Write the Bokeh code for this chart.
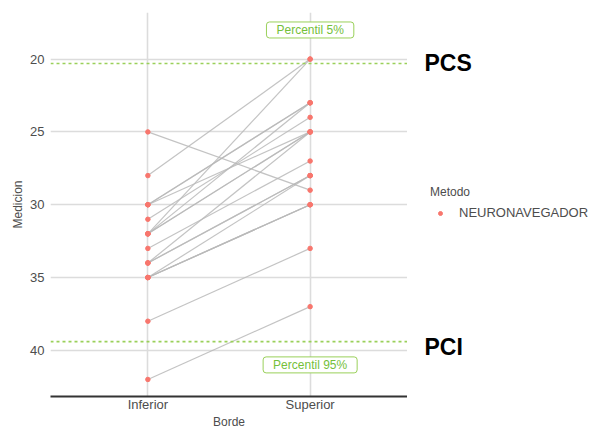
from bokeh.plotting import figure
from bokeh.models import Range1d, FixedTicker, Span, Label, Legend, LegendItem
from bokeh.layouts import row
from bokeh.embed import file_html
from bokeh.resources import INLINE

# ---- data ----
categories = ["Inferior", "Superior"]
inferior = [42, 38, 25, 28, 32, 30, 30, 30, 31, 32, 32, 32, 33, 34, 34, 34, 35, 35, 35, 35]
superior = [37, 33, 29, 20, 20, 23, 23, 25, 24, 23, 25, 25, 27, 25, 28, 28, 28, 30, 30, 30]
y_ticks = [20, 25, 30, 35, 40]
pcs_value = 20.3
pci_value = 39.4
method = "NEURONAVEGADOR"

FONT = "Liberation Sans"
GRID = "#dcdcdc"
GREEN = "#9ad05a"
GREEN_TXT = "#74c03a"
RED = "#F8766D"
H = 431
TOP, BOTTOM = 12, 34

yr = Range1d(43.17, 16.8)
p = figure(width=407, height=H, output_backend="svg", toolbar_location=None,
           x_range=Range1d(0.4, 2.6), y_range=yr,
           min_border_left=50, min_border_right=0, min_border_top=TOP, min_border_bottom=BOTTOM)
p.outline_line_color = None

cat_pos = {c: i + 1 for i, c in enumerate(categories)}

# axes
p.xaxis.ticker = FixedTicker(ticks=list(cat_pos.values()))
p.xaxis.major_label_overrides = {v: k for k, v in cat_pos.items()}
p.xaxis.axis_line_color = "#333333"
p.xaxis.axis_line_width = 2
p.xaxis.axis_label = "Borde"
p.xaxis.major_label_standoff = 0
p.xaxis.axis_label_standoff = 0

p.yaxis.ticker = FixedTicker(ticks=y_ticks)
p.yaxis.axis_line_color = None
p.yaxis.axis_label = "Medicion"
p.yaxis.major_label_standoff = 6
p.yaxis.axis_label_standoff = 2

for ax in (p.xaxis[0], p.yaxis[0]):
    ax.major_tick_line_color = None
    ax.minor_tick_line_color = None
    ax.major_tick_out = 0
    ax.minor_tick_out = 0
    ax.major_tick_in = 0
    ax.major_label_text_font = FONT
    ax.major_label_text_font_size = "13px"
    ax.major_label_text_color = "#4d4d4d"
    ax.axis_label_text_font = FONT
    ax.axis_label_text_font_size = "12px"
    ax.axis_label_text_font_style = "normal"
    ax.axis_label_text_color = "#4d4d4d"

p.xgrid.ticker = FixedTicker(ticks=list(cat_pos.values()))
p.ygrid.ticker = FixedTicker(ticks=y_ticks)
p.xgrid.grid_line_color = GRID
p.ygrid.grid_line_color = GRID
p.xgrid.grid_line_width = 1.6
p.ygrid.grid_line_width = 1.6

# percentile lines
for v in (pcs_value, pci_value):
    p.add_layout(Span(location=v, dimension="width", line_color=GREEN,
                      line_width=1.6, line_dash="3 3"))

# paired lines
n = len(inferior)
x0 = [cat_pos["Inferior"]] * n
x1 = [cat_pos["Superior"]] * n
p.segment(x0=x0, y0=inferior, x1=x1, y1=superior, line_color="#b8b8b8",
          line_width=1.2, line_alpha=0.85)

# points
p.scatter(x=x0, y=inferior, size=4.5, color=RED)
p.scatter(x=x1, y=superior, size=4.5, color=RED)

# percentile labels
for yv, txt in ((18.0, "Percentil 5%"), (41.0, "Percentil 95%")):
    p.add_layout(Label(x=cat_pos["Superior"], y=yv, text=txt, text_align="center",
                       text_baseline="middle", text_font=FONT, text_font_size="12px",
                       text_color=GREEN_TXT, background_fill_color="white",
                       border_line_color=GREEN, border_line_width=1,
                       border_radius=3, padding=(10, 1)))

# ---- side panel: PCS / PCI and legend ----
p2 = figure(width=188, height=H, output_backend="svg", toolbar_location=None,
            x_range=Range1d(0, 188), y_range=yr,
            min_border_left=0, min_border_right=0, min_border_top=TOP, min_border_bottom=BOTTOM)
p2.outline_line_color = None
p2.axis.visible = False
p2.grid.visible = False

for yv, txt in ((pcs_value, "PCS"), (39.75, "PCI")):
    p2.add_layout(Label(x=17, y=yv, text=txt, text_align="left", text_baseline="middle",
                        text_font=FONT, text_font_size="23px", text_font_style="bold",
                        text_color="black"))

# legend proxy (placed outside the visible range)
legend_r = p2.scatter(x=[-50], y=[superior[0]], size=4.5, color=RED)
lg = Legend(items=[LegendItem(label=method, renderers=[legend_r])])
lg.title = "Metodo"
lg.title_text_font = FONT
lg.title_text_font_size = "12px"
lg.title_text_color = "#4d4d4d"
lg.title_text_font_style = "normal"
lg.title_standoff = 6
lg.label_text_font = FONT
lg.label_text_font_size = "13px"
lg.label_text_color = "#4d4d4d"
lg.label_standoff = 9
lg.glyph_width = 20
lg.glyph_height = 10
lg.padding = 0
lg.margin = 0
lg.spacing = 0
lg.border_line_color = None
lg.background_fill_alpha = 0
lg.location = (23, 176)
p2.add_layout(lg)

layout = row(p, p2, spacing=0)
open("out.html", "w").write(file_html(layout, INLINE))
